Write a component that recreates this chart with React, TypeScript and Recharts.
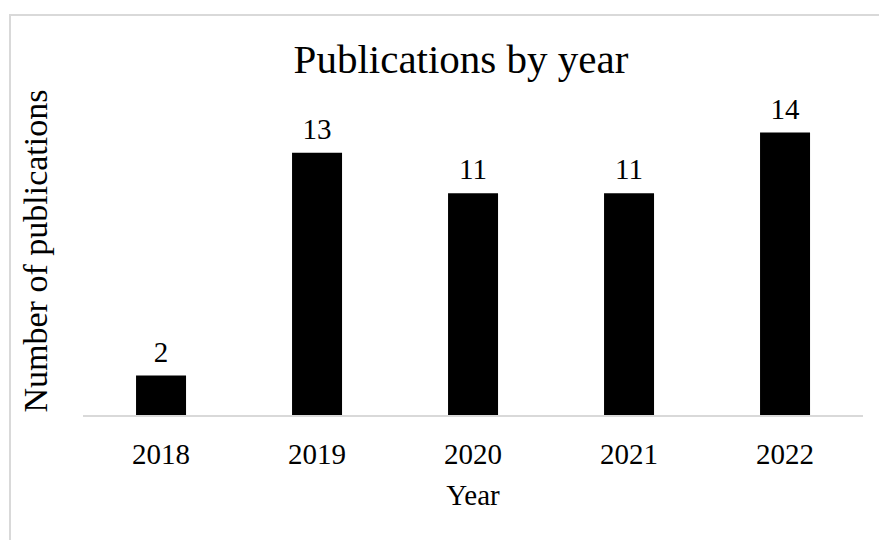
import { BarChart, Bar, XAxis, YAxis, LabelList, Label } from "recharts"

const years = ["2018", "2019", "2020", "2021", "2022"]
const publications = [2, 13, 11, 11, 14]

const data = years.map((year, i) => ({ year, count: publications[i] }))

const FONT = "'Liberation Serif', 'Times New Roman', serif"

export default function App() {
  return (
    <div style={{ position: "absolute", left: 0, top: 0, width: 879, height: 540, overflow: "hidden", background: "#fff" }}>
      {/* chart frame, runs off the right/bottom edge like the source */}
      <div style={{ position: "absolute", left: 9, top: 14, width: 920, height: 600, border: "2px solid #d9d9d9" }} />
      <div style={{ position: "absolute", left: 0, top: 0 }}>
        <BarChart width={879} height={540} data={data}
                  margin={{ top: 92, right: 16, bottom: 0, left: 83 }}
                  barCategoryGap="34%">
          <text x={461} y={73} textAnchor="middle" fontFamily={FONT} fontSize={41} fill="#000">
            Publications by year
          </text>
          <XAxis dataKey="year" axisLine={{ stroke: "#d9d9d9", strokeWidth: 2 }} tickLine={false}
                 tick={{ fill: "#000", fontSize: 29, fontFamily: FONT }} tickMargin={21} height={124}>
            <Label value="Year" position="insideTop" offset={68} fill="#000" fontSize={29} fontFamily={FONT} />
          </XAxis>
          <YAxis hide domain={[0, 16]} />
          <text x={47} y={251} textAnchor="middle" fontFamily={FONT} fontSize={34} fill="#000"
                transform="rotate(-90 47 251)">
            Number of publications
          </text>
          <Bar dataKey="count" fill="#000" isAnimationActive={false}>
            <LabelList dataKey="count" position="top" offset={14} fill="#000" fontSize={29} fontFamily={FONT} />
          </Bar>
        </BarChart>
      </div>
    </div>
  )
}
